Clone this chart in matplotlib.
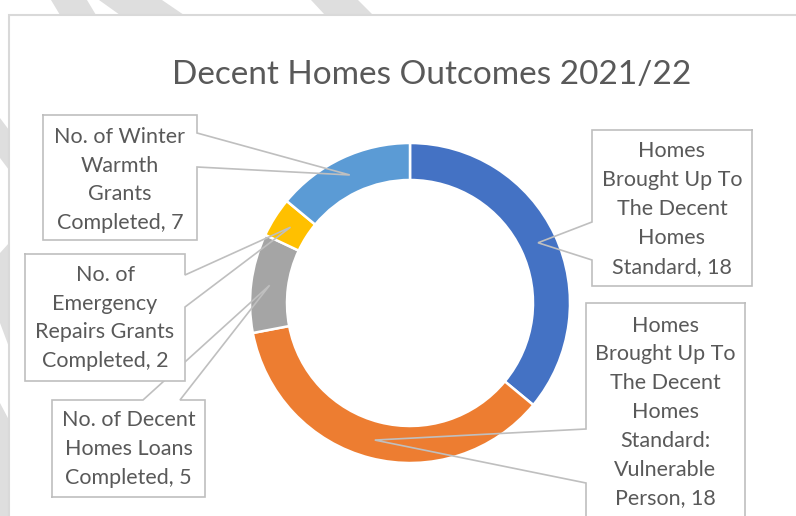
import numpy as np
import matplotlib.pyplot as plt
from matplotlib.patches import Polygon, Rectangle

plt.rcParams['font.family'] = ['Lato', 'DejaVu Sans']

# data
labels = ["Homes\nBrought Up To\nThe Decent\nHomes\nStandard, 18",
          "Homes\nBrought Up To\nThe Decent\nHomes\nStandard:\nVulnerable\nPerson, 18",
          "No. of Decent\nHomes Loans\nCompleted, 5",
          "No. of\nEmergency\nRepairs Grants\nCompleted, 2",
          "No. of Winter\nWarmth\nGrants\nCompleted, 7"]
values = [18, 18, 5, 2, 7]
colors = ['#4472C4', '#ED7D31', '#A5A5A5', '#FFC000', '#5B9BD5']
title = "Decent Homes Outcomes 2021/22"

W, H = 796, 516
def Y(y):
    # pixel row from top -> data y (up)
    return H - y

fig = plt.figure(figsize=(W / 100, H / 100), dpi=100)
ax = fig.add_axes([0, 0, 1, 1])

# background stripes behind the chart area
stripe_col = '#dedede'
stripes = [
    [(51, 0), (87, 0), (96, 15), (60, 15)],
    [(99, 0), (162, 0), (184, 15), (120, 15)],
    [(311, 0), (358, 0), (373, 15), (325, 15)],
    [(0, 118), (9, 130), (9, 170), (0, 158)],
    [(0, 253), (9, 243), (9, 347), (0, 323)],
    [(0, 403), (9, 420), (9, 516), (0, 516)],
]
for s in stripes:
    ax.add_patch(Polygon([(x, Y(y)) for x, y in s], closed=True,
                         facecolor=stripe_col, edgecolor='none', zorder=0))

# chart area
ax.add_patch(Rectangle((9, Y(530)), 800, 515, facecolor='white',
                       edgecolor='#d9d9d9', linewidth=1.5, zorder=1))

cx, cy, R, ring = 410, Y(303), 160, 37
wedges, _ = ax.pie(values, colors=colors, startangle=90, counterclock=False,
                   radius=R, center=(cx, cy),
                   wedgeprops=dict(width=ring, edgecolor='white', linewidth=1.8))
for w in wedges:
    w.set_zorder(2)

ax.set_xlim(0, W)
ax.set_ylim(0, H)
ax.set_aspect('auto')
ax.axis('off')

ax.text(432, Y(75), title, ha='center', va='center', fontsize=24,
        color='#595959', zorder=5)

def tip(i):
    w = wedges[i]
    a = np.deg2rad((w.theta1 + w.theta2) / 2)
    r = R - ring / 2
    return cx + r * np.cos(a), cy + r * np.sin(a)

# callout boxes: (x0, y0, x1, y1), side, attach points, text centre row
boxes = {
    2: ((52, 400, 205, 497), 'top', (143, 180), 449),
    3: ((25, 254, 185, 381), 'right', (275, 307), 318),
    4: ((43, 115, 197, 240), 'right', (133, 167), 180),
    0: ((592, 130, 752, 286), 'left', (222, 260), 209),
    1: ((586, 303, 745, 540), 'left', (429, 483), 412),
}
line_col = '#bfbfbf'
z = 3
for i in [2, 3, 4, 0, 1]:
    (x0, y0, x1, y1), side, (a1, a2), ymid = boxes[i]
    tx, ty = tip(i)
    if side == 'right':
        pts = [(x0, y0), (x1, y0), (x1, a1), 'T', (x1, a2), (x1, y1), (x0, y1)]
    elif side == 'left':
        pts = [(x1, y0), (x0, y0), (x0, a1), 'T', (x0, a2), (x0, y1), (x1, y1)]
    else:
        pts = [(x0, y1), (x0, y0), (a1, y0), 'T', (a2, y0), (x1, y0), (x1, y1)]
    outline = [(tx, ty) if p == 'T' else (p[0], Y(p[1])) for p in pts]
    outline.append(outline[0])
    ax.add_patch(Rectangle((x0, Y(y1)), x1 - x0, y1 - y0, facecolor='white',
                           edgecolor='none', zorder=z))
    xs, ys = zip(*outline)
    ax.plot(xs, ys, color=line_col, linewidth=1.2, zorder=z + 0.5,
            solid_joinstyle='miter')
    ax.text((x0 + x1) / 2, Y(ymid), labels[i], ha='center', va='center',
            fontsize=15.5, color='#595959', linespacing=1.55, zorder=z + 0.6)
    z += 1

fig.savefig('out.png', dpi=100)
